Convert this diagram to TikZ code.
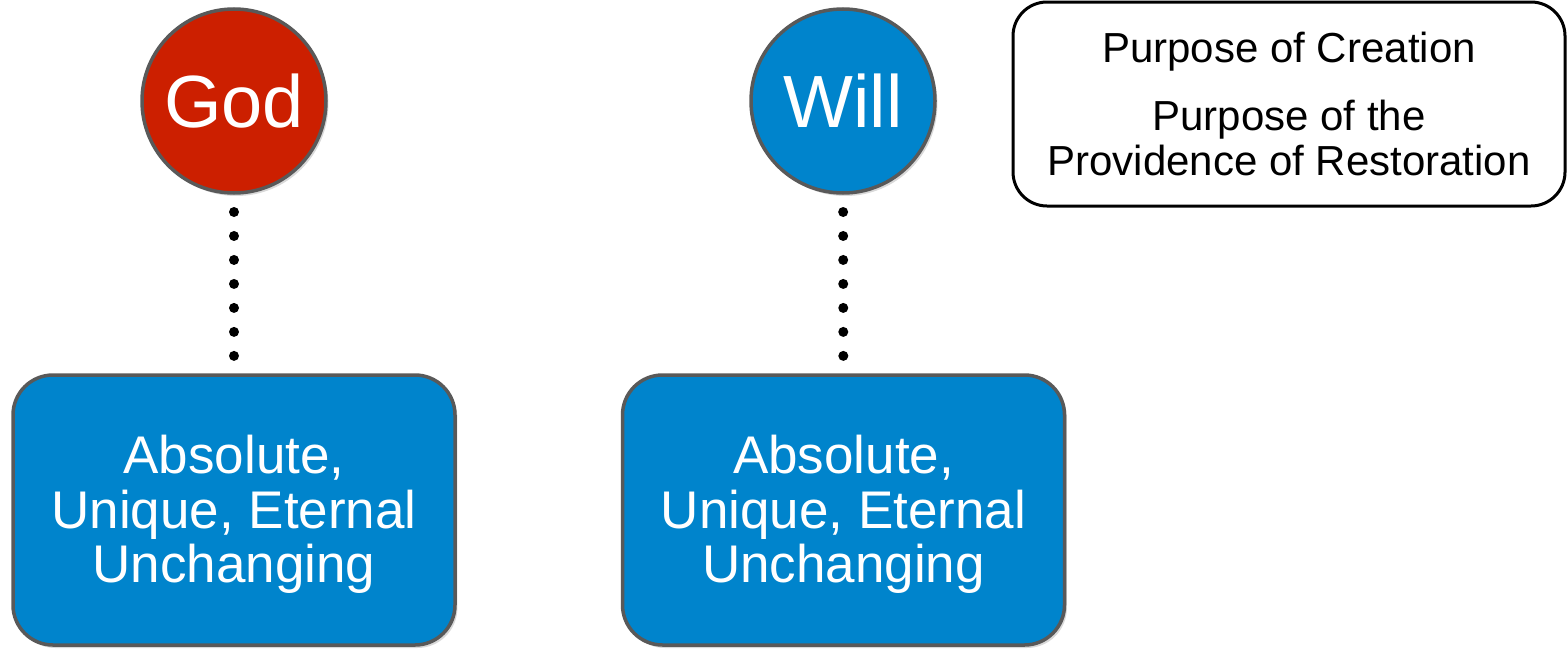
\documentclass[tikz,border=0pt]{standalone}
\usepackage{fontspec}
\setmainfont{Liberation Sans}
\usetikzlibrary{shadows}
\definecolor{godred}{HTML}{CC1F00}
\definecolor{willblue}{HTML}{0084CC}
\definecolor{rimgray}{HTML}{595959}

\begin{document}
\begin{tikzpicture}[x=0.5pt, y=-0.5pt, every node/.style={inner sep=0pt, outer sep=0pt},
	softshadow/.style={drop shadow={opacity=0.3, shadow xshift=1.2pt, shadow yshift=-1.5pt}},
	ball/.style={circle, draw=rimgray, line width=1.75pt, minimum size=92pt, text=white, font=\fontsize{37}{40}\selectfont, softshadow},
	trait/.style={rounded corners=20pt, draw=rimgray, line width=1.75pt, fill=willblue, minimum width=221pt, minimum height=135pt, text=white, align=center, font=\fontsize{26.5}{27.25}\selectfont, softshadow},
	dotline/.style={line width=5pt, line cap=round, dash pattern=on 0pt off 11.99pt, shorten <=9.5pt, shorten >=9.5pt}]
	\useasboundingbox (0,0) rectangle (1567,648);
	\node[ball, fill=godred] (god) at (234,101) {God};
	\node[ball, fill=willblue] (will) at (843,101) {Will};
	\node[trait] (godtrait) at (234,510) {\rule{0pt}{23.5pt}Absolute,\\ Unique, Eternal\\ Unchanging};
	\node[trait] (willtrait) at (843.5,510) {\rule{0pt}{23.5pt}Absolute,\\ Unique, Eternal\\ Unchanging};
	\node[rounded corners=17pt, draw=black, line width=1.5pt, minimum width=276pt, minimum height=102pt, align=center, font=\fontsize{21}{22.5}\selectfont] (purpose) at (1289,104) {Purpose of Creation\\[11.5pt] Purpose of the\\ Providence of Restoration};
	\draw[dotline] (god) -- (godtrait);
	\draw[dotline] (will) -- (willtrait);
\end{tikzpicture}
\end{document}
